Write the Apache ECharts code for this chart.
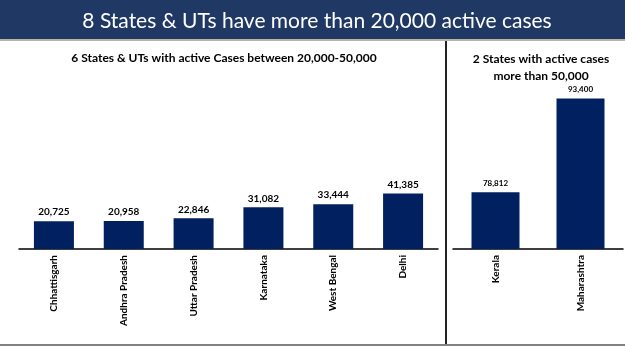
<!DOCTYPE html>
<html>
<head>
<meta charset="utf-8">
<script src="https://cdn.jsdelivr.net/npm/echarts@6/dist/echarts.min.js"></script>
<style>
  html, body { margin: 0; padding: 0; background: #fff; }
  #chart { width: 625px; height: 351px; }
</style>
</head>
<body>
<div id="chart"></div>
<script>
// left panel: 20,000 - 50,000
var midStates = ['Chhattisgarh', 'Andhra Pradesh', 'Uttar Pradesh', 'Karnataka', 'West Bengal', 'Delhi'];
var midCases = [20725, 20958, 22846, 31082, 33444, 41385];
// right panel: above 50,000
var topStates = ['Kerala', 'Maharashtra'];
var topCases = [78812, 93400];

var mainTitle = '8 States & UTs have more than 20,000 active cases';
var leftTitle = '6 States & UTs with active Cases between 20,000-50,000';
var rightTitle = '2 States with active cases\nmore than 50,000';

var barColor = '#002060';
var font = 'Lato, "Open Sans", sans-serif';

function fmt(p) {
    return p.value.toLocaleString('en-US');
}

var chart = echarts.init(document.getElementById('chart'));

var option = {
    backgroundColor: '#fff',
    animation: false,
    title: [{
        text: mainTitle,
        left: 312,
        textAlign: 'center',
        top: 6,
        textStyle: { color: '#fff', fontSize: 21, fontWeight: 'normal', fontFamily: font }
    }, {
        text: leftTitle,
        left: 219,
        textAlign: 'center',
        top: 47,
        textStyle: { color: '#000', fontSize: 12, fontWeight: 'bold', fontFamily: font }
    }, {
        text: rightTitle,
        left: 536,
        textAlign: 'center',
        top: 46,
        textStyle: { color: '#000', fontSize: 12, fontWeight: 'bold', fontFamily: font, lineHeight: 17 }
    }],
    graphic: [
        // banner
        { type: 'rect', z: -1, shape: { x: 0, y: 0, width: 625, height: 39 }, style: { fill: '#1f3864' } },
        { type: 'rect', z: -1, shape: { x: 0, y: 39, width: 625, height: 2 }, style: { fill: '#b8b5a8' } },
        // divider + bottom rule
        { type: 'line', shape: { x1: 446, y1: 41, x2: 446, y2: 344 }, style: { stroke: '#222', lineWidth: 2 } },
        { type: 'line', shape: { x1: 0, y1: 345, x2: 625, y2: 345 }, style: { stroke: '#808080', lineWidth: 2 } }
    ],
    grid: [
        { left: 19, right: 187, top: 88, bottom: 102 },
        { left: 453, right: 2, top: 56, bottom: 102 }
    ],
    xAxis: [{
        type: 'category',
        gridIndex: 0,
        data: midStates,
        axisLine: { lineStyle: { color: '#000', width: 1.5 } },
        axisTick: { show: false },
        axisLabel: { rotate: 90, margin: 6, color: '#000', fontSize: 10, fontWeight: 'bold', fontFamily: font }
    }, {
        type: 'category',
        gridIndex: 1,
        data: topStates,
        axisLine: { lineStyle: { color: '#000', width: 1.5 } },
        axisTick: { show: false },
        axisLabel: { rotate: 90, margin: 6, color: '#000', fontSize: 10, fontWeight: 'bold', fontFamily: font }
    }],
    yAxis: [{
        type: 'value',
        gridIndex: 0,
        min: 0,
        max: 120000,
        show: false
    }, {
        type: 'value',
        gridIndex: 1,
        min: 70000,
        max: 100000,
        show: false
    }],
    series: [{
        type: 'bar',
        xAxisIndex: 0,
        yAxisIndex: 0,
        data: midCases,
        barWidth: 40,
        itemStyle: { color: barColor },
        label: {
            show: true, position: 'top', distance: 4, formatter: fmt,
            color: '#000', fontSize: 10, fontWeight: 'bold', fontFamily: font
        }
    }, {
        type: 'bar',
        xAxisIndex: 1,
        yAxisIndex: 1,
        data: topCases,
        barWidth: 48,
        itemStyle: { color: barColor },
        label: {
            show: true, position: 'top', distance: 5, formatter: fmt,
            color: '#000', fontSize: 8, fontWeight: 'bold', fontFamily: font
        }
    }]
};

chart.setOption(option);
</script>
</body>
</html>
